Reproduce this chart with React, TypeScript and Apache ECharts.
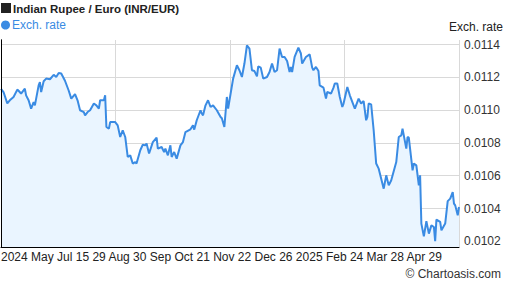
import React, { useEffect, useRef } from "react";
import * as echarts from "echarts";

// Day offset within the one-year window (0 = first point, 365 = last point)
const days = [
  0, 2, 5, 7, 10, 13, 14, 16, 19, 20, 22, 24, 26, 27, 30, 31, 32, 34, 36, 39,
  42, 44, 46, 48, 51, 54, 56, 59, 61, 63, 66, 67, 69, 71, 74, 76, 78, 79, 82, 83,
  84, 86, 87, 91, 93, 95, 97, 99, 101, 103, 105, 107, 108, 111, 113, 115, 116, 118, 121, 124,
  125, 128, 130, 131, 133, 135, 136, 138, 140, 143, 145, 147, 151, 153, 154, 156, 159, 160, 161, 163,
  165, 167, 169, 172, 175, 176, 178, 180, 181, 183, 185, 188, 190, 192, 194, 196, 198, 200, 202, 204,
  205, 207, 209, 212, 214, 216, 218, 220, 222, 224, 226, 228, 230, 231, 232, 234, 237, 239, 240, 243,
  246, 248, 249, 251, 253, 254, 257, 259, 260, 263, 265, 266, 268, 270, 272, 273, 276, 278, 281, 282,
  285, 287, 289, 291, 292, 293, 295, 297, 299, 301, 303, 305, 307, 309, 311, 315, 317, 319, 320, 321,
  323, 324, 325, 328, 329, 331, 333, 334, 335, 337, 339, 341, 343, 345, 346, 347, 350, 351, 354, 356,
  358, 360, 361, 362, 364, 365,
];

// INR/EUR exchange rate
const rates = [
  0.01113, 0.01111, 0.011041, 0.01106, 0.01108, 0.011125, 0.011118, 0.011101, 0.011131, 0.01109,
  0.01106, 0.011009, 0.011049, 0.011029, 0.011151, 0.011171, 0.01111, 0.011176, 0.011192, 0.011188,
  0.011215, 0.011202, 0.011226, 0.011223, 0.011179, 0.011118, 0.01107, 0.011098, 0.01106, 0.010999,
  0.010988, 0.010968, 0.010988, 0.010999, 0.01104, 0.011029, 0.011009, 0.01106, 0.01106, 0.01109,
  0.010897, 0.010887, 0.010927, 0.010927, 0.010907, 0.010836, 0.010877, 0.010836, 0.010714, 0.010724,
  0.010674, 0.010683, 0.010674, 0.010755, 0.010789, 0.010785, 0.010796, 0.010735, 0.010805, 0.010832,
  0.010765, 0.010775, 0.010744, 0.010765, 0.010724, 0.010785, 0.010714, 0.010744, 0.010704, 0.010785,
  0.010805, 0.010866, 0.010883, 0.010907, 0.010881, 0.010938, 0.010999, 0.010979, 0.010968, 0.011029,
  0.01106, 0.011019, 0.011029, 0.010999, 0.010958, 0.01095, 0.010897, 0.01108, 0.011009, 0.011101,
  0.011192, 0.011273, 0.011243, 0.011202, 0.011284, 0.011395, 0.011375, 0.011243, 0.011238, 0.011206,
  0.011267, 0.011259, 0.011192, 0.011202, 0.011232, 0.011284, 0.011232, 0.011243, 0.011375, 0.011324,
  0.011324, 0.011299, 0.011232, 0.011263, 0.011232, 0.011324, 0.011381, 0.011345, 0.011284, 0.011324,
  0.01134, 0.011259, 0.011243, 0.011263, 0.011238, 0.011151, 0.011137, 0.01107, 0.01111, 0.011101,
  0.011137, 0.011162, 0.011162, 0.01108, 0.011019, 0.01104, 0.011141, 0.01109, 0.011029, 0.011009,
  0.01107, 0.01104, 0.011055, 0.010938, 0.010958, 0.01104, 0.011035, 0.010877, 0.010674, 0.010643,
  0.010582, 0.010521, 0.010602, 0.010541, 0.010572, 0.010683, 0.010836, 0.010846, 0.010887, 0.010846,
  0.010765, 0.010836, 0.010832, 0.010633, 0.010674, 0.010663, 0.010541, 0.010602, 0.010308, 0.01023,
  0.010323, 0.010247, 0.010297, 0.010287, 0.010201, 0.010332, 0.010318, 0.010267, 0.010308, 0.010445,
  0.01046, 0.0105, 0.01043, 0.010419, 0.010358, 0.010409,
];

const xTickLabels = [
  "2024", "May", "Jul", "15", "29", "Aug", "30", "Sep", "Oct", "21", "Nov",
  "22", "Dec", "26", "2025", "Feb", "24", "Mar", "28", "Apr", "29",
];

const titleText = "Indian Rupee / Euro (INR/EUR)";
const seriesName = "Exch. rate";
const yAxisName = "Exch. rate";
const creditText = "\u00A9 Chartoasis.com";

const FONT = "'Liberation Sans', Arial, sans-serif";
const LINE_COLOR = "#3a8be3";
const GRID_COLOR = "#d9d9d9";

export default function App() {
  const ref = useRef<HTMLDivElement>(null);

  useEffect(() => {
    if (!ref.current) return;
    const chart = echarts.init(ref.current, undefined, { renderer: "svg" });
    const data = days.map((d, i) => [d, rates[i]]);

    chart.setOption({
      animation: false,
      textStyle: { fontFamily: FONT },
      legend: {
        data: [seriesName],
        left: 0,
        top: 19,
        padding: [0, 0, 0, 1],
        icon: "circle",
        itemWidth: 9,
        itemHeight: 9,
        textStyle: { color: LINE_COLOR, fontSize: 12, fontFamily: FONT, padding: [0, 0, 0, -3] },
      },
      grid: [
        { left: 1, right: 48, top: 40, bottom: 41 },
        { left: 1, right: 48, top: 44.5, bottom: 46.7 },
      ],
      xAxis: [
        {
          type: "value",
          gridIndex: 0,
          min: 0,
          max: 365,
          interval: 91.25,
          axisLine: { show: false },
          axisTick: { show: false },
          axisLabel: { show: false },
          splitLine: { show: true, lineStyle: { color: GRID_COLOR, width: 1 } },
        },
        {
          type: "value",
          gridIndex: 1,
          min: 0,
          max: 365,
          show: false,
        },
        {
          type: "value",
          gridIndex: 0,
          position: "bottom",
          min: 0,
          max: 365,
          z: 10,
          axisLine: { show: true, lineStyle: { color: "#000", width: 1 } },
          axisTick: { show: false },
          axisLabel: { show: false },
          splitLine: { show: false },
        },
      ],
      yAxis: [
        {
          type: "value",
          gridIndex: 0,
          position: "right",
          min: 0.0101652,
          max: 0.0114274,
          z: 10,
          axisLine: { show: true, lineStyle: { color: "#000", width: 1 } },
          axisTick: { show: false },
          axisLabel: { show: false },
          splitLine: { show: false },
        },
        {
          type: "value",
          gridIndex: 0,
          position: "left",
          min: 0.0101652,
          max: 0.0114274,
          z: 10,
          axisLine: { show: true, lineStyle: { color: "#000", width: 1 } },
          axisTick: { show: false },
          axisLabel: { show: false },
          splitLine: { show: false },
        },
        {
          type: "value",
          gridIndex: 1,
          position: "right",
          min: 0.0102,
          max: 0.0114,
          interval: 0.0002,
          axisLine: { show: false },
          axisTick: { show: false },
          axisLabel: {
            show: true,
            color: "#333",
            fontSize: 12,
            fontFamily: FONT,
            margin: 5,
            formatter: (v: number) => v.toFixed(4),
          },
          splitLine: { show: true, lineStyle: { color: GRID_COLOR, width: 1 } },
        },
      ],
      series: [
        {
          name: seriesName,
          type: "line",
          xAxisIndex: 0,
          yAxisIndex: 0,
          data,
          showSymbol: false,
          symbol: "circle",
          itemStyle: { color: LINE_COLOR },
          lineStyle: { color: LINE_COLOR, width: 2 },
          areaStyle: { color: "#eaf5ff", opacity: 1, origin: "start" },
          z: 3,
        },
      ],
      graphic: [
        {
          type: "rect",
          shape: { x: 1, y: 3, width: 10, height: 10 },
          style: { fill: "#222" },
        },
        {
          type: "text",
          x: 13,
          y: 9,
          style: {
            text: titleText,
            font: `bold 11.5px ${FONT}`,
            fill: "#222",
            verticalAlign: "middle",
          },
        },
        {
          type: "text",
          x: 503,
          y: 27,
          style: {
            text: yAxisName,
            font: `12px ${FONT}`,
            fill: "#222",
            align: "right",
            verticalAlign: "middle",
          },
        },
        {
          type: "text",
          x: 1,
          y: 257,
          style: {
            text: xTickLabels.join(" "),
            font: `12px ${FONT}`,
            fill: "#222",
            verticalAlign: "middle",
          },
        },
        {
          type: "text",
          x: 501,
          y: 274,
          style: {
            text: creditText,
            font: `12px ${FONT}`,
            fill: "#333",
            align: "right",
            verticalAlign: "middle",
          },
        },
      ],
    });

    return () => chart.dispose();
  }, []);

  return (
    <div
      ref={ref}
      style={{ position: "absolute", left: 0, top: 0, width: 507, height: 288 }}
    />
  );
}
